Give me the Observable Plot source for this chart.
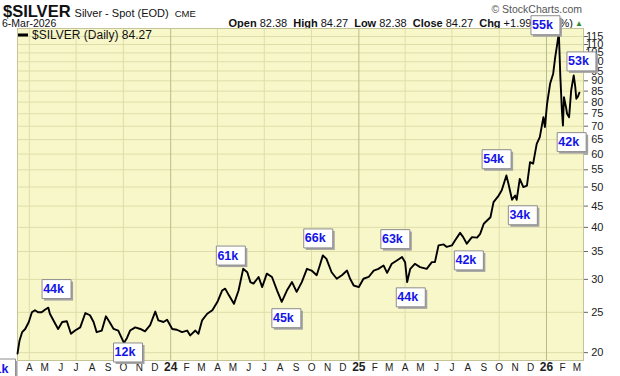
<!DOCTYPE html>
<html><head><meta charset="utf-8">
<script src="https://cdn.jsdelivr.net/npm/d3@7"></script>
<script src="https://cdn.jsdelivr.net/npm/@observablehq/plot@0.6"></script>
<style>
html,body{margin:0;padding:0;background:#fff;}
#chart{width:620px;height:376px;overflow:hidden;}
</style></head><body><div id="chart"></div>
<script>
// ---- price series ($SILVER daily close) ----
const dates = [
"2023-03-09","2023-03-13","2023-03-18","2023-03-24","2023-03-31","2023-04-06","2023-04-12","2023-04-18","2023-04-25","2023-05-02",
"2023-05-08","2023-05-11","2023-05-18","2023-05-27","2023-06-04","2023-06-13","2023-06-21","2023-06-29","2023-07-09","2023-07-19",
"2023-07-28","2023-08-04","2023-08-10","2023-08-20","2023-08-28","2023-09-04","2023-09-12","2023-09-21","2023-10-02","2023-10-08",
"2023-10-14","2023-10-24","2023-11-03","2023-11-12","2023-11-22","2023-12-02","2023-12-08","2023-12-18","2023-12-25","2024-01-04",
"2024-01-13","2024-01-23","2024-02-02","2024-02-08","2024-02-18","2024-02-24","2024-03-02","2024-03-12","2024-03-22","2024-04-01",
"2024-04-10","2024-04-16","2024-04-23","2024-05-03","2024-05-12","2024-05-21","2024-05-29","2024-06-04","2024-06-10","2024-06-20",
"2024-06-27","2024-07-06","2024-07-16","2024-07-26","2024-08-04","2024-08-14","2024-08-24","2024-09-02","2024-09-12","2024-09-22",
"2024-10-01","2024-10-11","2024-10-17","2024-10-23","2024-10-30","2024-11-09","2024-11-19","2024-11-29","2024-12-09","2024-12-15",
"2024-12-22","2025-01-01","2025-01-10","2025-01-20","2025-01-30","2025-02-08","2025-02-18","2025-02-25","2025-03-06","2025-03-16",
"2025-03-26","2025-04-01","2025-04-05","2025-04-11","2025-04-20","2025-04-30","2025-05-13","2025-05-23","2025-05-29","2025-06-05",
"2025-06-15","2025-06-21","2025-07-01","2025-07-07","2025-07-17","2025-07-23","2025-07-30","2025-08-09","2025-08-19","2025-08-25",
"2025-09-01","2025-09-14","2025-09-20","2025-09-30","2025-10-06","2025-10-15","2025-10-19","2025-10-26","2025-11-01","2025-11-04",
"2025-11-10","2025-11-17","2025-11-24","2025-11-30","2025-12-06","2025-12-13","2025-12-19","2025-12-26","2025-12-29","2026-01-02",
"2026-01-08","2026-01-14","2026-01-18","2026-01-22","2026-01-25","2026-01-28","2026-01-31","2026-02-02","2026-02-04","2026-02-08",
"2026-02-10","2026-02-14","2026-02-18","2026-02-23","2026-02-26","2026-02-28","2026-03-03","2026-03-06"
];
const prices = [
19.9,21.4,22.4,22.8,23.7,25.0,25.3,25.0,25.0,25.4,
25.65,24.8,23.9,22.8,23.7,23.8,22.2,22.6,23.0,24.9,
24.6,23.7,22.4,22.6,24.45,23.7,22.8,22.6,21.1,21.7,
22.6,23.0,22.8,22.5,23.3,25.1,23.9,23.7,24.0,22.8,
22.7,22.4,22.6,22.0,22.6,22.2,23.9,24.8,25.3,26.5,
28.2,28.5,27.5,26.2,28.2,31.8,31.2,29.55,29.3,30.4,
28.75,30.96,30.4,28.2,26.5,28.2,29.55,28.0,29.55,31.8,
31.5,30.7,32.4,34.26,33.6,31.2,30.1,30.7,31.5,30.1,
29.0,28.75,30.1,30.4,31.5,31.8,32.4,31.1,32.7,33.3,
33.94,33.0,29.55,31.8,32.7,32.1,31.8,33.0,33.0,36.2,
36.4,35.9,36.2,37.2,38.8,37.9,36.55,37.9,37.8,38.6,
40.8,42.3,46.0,47.7,49.1,53.3,50.9,46.6,47.7,46.6,
52.3,50.0,50.4,57.4,56.9,63.5,65.9,73.6,69.7,79.0,
88.5,93.6,102.6,110.5,117.5,91.8,76.4,70.3,82.2,77.8,
75.0,73.6,85.3,92.7,87.0,81.5,82.4,84.27
];

// ---- volume annotations ----
const volText   = ["21k","44k","12k","61k","45k","66k","63k","44k","42k","54k","34k","42k","53k","55k"];
const volDates  = ["2023-02-05","2023-05-24","2023-10-10","2024-04-27","2024-08-13","2024-10-14","2025-03-13","2025-04-12","2025-08-03","2025-09-26","2025-11-16","2026-02-19","2026-03-10","2025-12-30"];
const volPrices = [18.32,28.43,20.02,34.22,24.2,37.63,37.48,27.16,33.32,58.32,42.77,64.1,100.2,122.4];

// ---- ticks ----
const yTicks = [20,25,30,35,40,45,50,55,60,65,70,75,80,85,90,95,100,105,110,115];
const monthLetters = ["J","F","M","A","M","J","J","A","S","O","N","D"];
const xStart = "2023-03-09", xEnd = "2026-03-14";

// ---- header texts ----
const ticker = "$SILVER", desc = "Silver - Spot (EOD)", exch = "CME", asOf = "6-Mar-2026";
const quote = [["Open","82.38"],["High","84.27"],["Low","82.38"],["Close","84.27"],["Chg","+1.99 (2.42%)"]];
const legendText = "$SILVER (Daily) 84.27";

const data = dates.map((d,i)=>({date:new Date(d), price:prices[i]}));
const labels = volText.map((t,i)=>({text:t, date:new Date(volDates[i]), price:volPrices[i]}));
const months = d3.utcMonth.range(new Date("2023-04-01"), new Date(xEnd));
const janTicks = months.filter(d=>d.getUTCMonth()===0);
const monthTicks = months.filter(d=>d.getUTCMonth()!==0);
const quarterTicks = months.filter(d=>d.getUTCMonth()%3===0 && d.getUTCMonth()!==0);

const boxSym = {draw(ctx){ctx.moveTo(-14.5,-9.5);ctx.lineTo(14.5,-9.5);ctx.lineTo(14.5,9.5);ctx.lineTo(-14.5,9.5);ctx.closePath();}};
const FONT = "'Liberation Sans', Arial, sans-serif";

const chart = Plot.plot({
  width: 620, height: 376,
  marginLeft: 17, marginRight: 37, marginTop: 28, marginBottom: 16,
  style: {fontFamily: FONT, background: "white", color: "#222", overflow: "visible"},
  x: {type: "utc", domain: [new Date(xStart), new Date(xEnd)]},
  y: {type: "log", domain: [19.15, 120.2]},
  marks: [
    Plot.frame({fill: "#f8f7c9", stroke: null}),
    Plot.gridY(yTicks, {stroke: "#deddaa", strokeOpacity: 1}),
    Plot.gridX(quarterTicks, {stroke: "#deddaa", strokeOpacity: 1}),
    Plot.gridX(janTicks, {stroke: "#b7bd88", strokeOpacity: 1}),
    Plot.frame({stroke: "#c4c498"}),
    Plot.axisY(yTicks, {anchor: "right", tickSize: 4, tickPadding: 16, textAnchor: "end", fontSize: 11, label: null, tickFormat: d => String(d), stroke: "#666", fill: "#222"}),
    Plot.axisX(monthTicks, {anchor: "bottom", tickSize: 0, tickPadding: 3, fontSize: 10, label: null, tickFormat: d => monthLetters[d.getUTCMonth()], fill: "#222"}),
    Plot.axisX(janTicks, {anchor: "bottom", tickSize: 0, tickPadding: 2, fontSize: 12, fontWeight: "bold", label: null, tickFormat: d => String(d.getUTCFullYear()).slice(2), fill: "#222"}),
    Plot.line(data, {x: "date", y: "price", stroke: "#000", strokeWidth: 1.9}),
    Plot.dot(labels, {x: "date", y: "price", symbol: boxSym, fill: "#a3a3a3", stroke: null, dx: 2, dy: 2}),
    Plot.dot(labels, {x: "date", y: "price", symbol: boxSym, fill: "white", stroke: "#8c8c8c", strokeWidth: 1}),
    Plot.text(labels, {x: "date", y: "price", text: "text", fill: "#1414e8", fontWeight: "bold", fontSize: 12.5, dx: -3})
  ]
});

const svg = d3.select(chart);
// header under everything
const hdr = svg.insert("g", ":first-child").attr("font-family", FONT).attr("text-anchor", "start");
const t1 = hdr.append("text").attr("x", 3).attr("y", 16.5).attr("fill", "#111");
t1.append("tspan").attr("font-size", 16.5).attr("font-weight", "bold").text(ticker);
t1.append("tspan").attr("font-size", 11).attr("dx", 4).text(desc);
t1.append("tspan").attr("font-size", 9.5).attr("dx", 6).text(exch);
hdr.append("text").attr("x", 2).attr("y", 26.5).attr("font-size", 10.5).attr("fill", "#111").text(asOf);
const q = hdr.append("text").attr("x", 573).attr("y", 26.5).attr("text-anchor", "end").attr("font-size", 11).attr("fill", "#111");
quote.forEach(([k,v],i)=>{
  q.append("tspan").attr("font-weight","bold").attr("dx", i ? 6 : 0).text(k);
  q.append("tspan").attr("dx", 3).text(v);
});
hdr.append("text").attr("x", 583).attr("y", 26).attr("text-anchor", "end").attr("font-size", 8).attr("fill", "#2e8b2e").text("▲");
hdr.append("text").attr("x", 582).attr("y", 12.5).attr("text-anchor", "end").attr("font-size", 10.5).attr("fill", "#555").text("© StockCharts.com");
// legend on top
const lg = svg.append("g").attr("font-family", FONT).attr("text-anchor", "start");
lg.append("line").attr("x1", 18).attr("x2", 28).attr("y1", 35).attr("y2", 35).attr("stroke", "#000").attr("stroke-width", 3);
lg.append("text").attr("x", 32).attr("y", 39).attr("font-size", 12).attr("fill", "#111").text(legendText);

document.getElementById("chart").appendChild(chart);
</script></body></html>
